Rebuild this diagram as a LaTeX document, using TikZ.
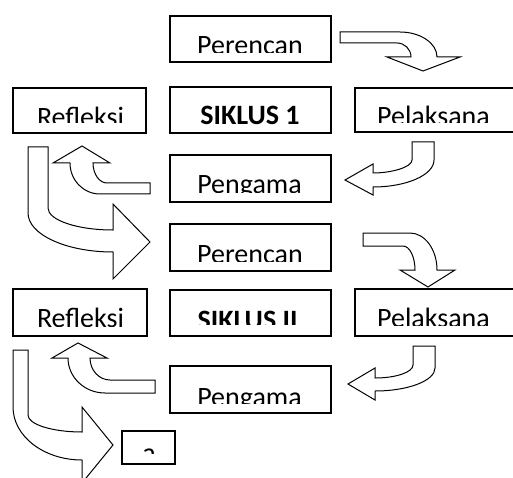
\documentclass[tikz,border=0pt]{standalone}
\usepackage{fontspec}
\setmainfont{Carlito}
\begin{document}
\begin{tikzpicture}[x=1pt,y=-1pt,
  box/.style={draw,line width=1.2pt,inner sep=0pt},
  lbl/.style={anchor=base,inner sep=0pt,font=\fontsize{28}{30}\selectfont},
  blk/.style={draw,line width=1pt,fill=white,line join=miter}]
\clip (0,0) rectangle (513,478);
\fill[white] (0,0) rectangle (513,478);
% boxes
\node[box,minimum width=161pt,minimum height=46pt] (p1) at (250.5,39) {};
\node[box,minimum width=133pt,minimum height=45pt] (r1) at (79.5,110.5) {};
\node[box,minimum width=161pt,minimum height=46pt] (s1) at (250.5,110) {};
\node[box,minimum width=161pt,minimum height=44pt] (l1) at (435.5,110) {};
\node[box,minimum width=161pt,minimum height=47pt] (g1) at (250.5,178.5) {};
\node[box,minimum width=161pt,minimum height=47pt] (p2) at (250.5,247.5) {};
\node[box,minimum width=134pt,minimum height=47pt] (r2) at (80,312.5) {};
\node[box,minimum width=161pt,minimum height=46pt] (s2) at (250.5,313) {};
\node[box,minimum width=161pt,minimum height=47pt] (l2) at (435.5,312.5) {};
\node[box,minimum width=161pt,minimum height=47pt] (g2) at (250.5,389.5) {};
\node[box,minimum width=53pt,minimum height=33pt] (x1) at (148.5,447.5) {};
% clipped texts
\begin{scope}\clip (p1.north west) rectangle (331,52.3);
\node[lbl] (p1t) at (250,54.4) {Perencan};\end{scope}
\begin{scope}\clip (r1.north west) rectangle (146,123);
\node[lbl] (r1t) at (80.5,126.7) {Refleksi};\end{scope}
\begin{scope}\clip (s1.north west) rectangle (331,124.5);
\node[lbl] (s1t) at (250,124.7) {\bfseries SIKLUS 1};\end{scope}
\begin{scope}\clip (l1.north west) rectangle (513,122.7);
\node[lbl] (l1t) at (433.5,126) {Pelaksana};\end{scope}
\begin{scope}\clip (g1.north west) rectangle (331,192.3);
\node[lbl] (g1t) at (249.5,193.7) {Pengama};\end{scope}
\begin{scope}\clip (p2.north west) rectangle (331,261.7);
\node[lbl] (p2t) at (250,263.7) {Perencan};\end{scope}
\begin{scope}\clip (r2.north west) rectangle (147,326);
\node[lbl] (r2t) at (80.5,327.7) {Refleksi};\end{scope}
\begin{scope}\clip (s2.north west) rectangle (331,324.3);
\node[lbl] (s2t) at (247.5,329.7) {\bfseries SIKLUS II};\end{scope}
\begin{scope}\clip (l2.north west) rectangle (513,325);
\node[lbl] (l2t) at (433.5,327) {Pelaksana};\end{scope}
\begin{scope}\clip (g2.north west) rectangle (331,403.3);
\node[lbl] (g2t) at (249.5,406) {Pengama};\end{scope}
\begin{scope}\clip (x1.north west) rectangle (175,453);
\node[lbl] (x1t) at (149,462) {a};\end{scope}
% block arrows
% A1 Perencan1 -> Pelaksana1
\draw[blk] (340,32) -- (400,32) .. controls (420.4,32) and (437,43.2) .. (437,57)
  -- (460,57) -- (423,71) -- (387,57) -- (411,57)
  .. controls (411,49.3) and (404.7,43) .. (397,43) -- (340,43) -- cycle;
% A2 Pelaksana1 -> Pengama1
\draw[blk] (412,142) -- (434,142) -- (434,160) .. controls (434,174.9) and (406.7,187) .. (373,187)
  -- (373,195) -- (345,180) -- (373,164) -- (373,173)
  .. controls (391.5,173) and (412,167.2) .. (412,160) -- cycle;
% A3 Pengama1 -> Refleksi1
\draw[blk] (150,183) -- (107,183) .. controls (99.3,183) and (93,174) .. (93,163)
  -- (110,163) -- (82,146) -- (53,163) -- (70,163)
  .. controls (70,180.1) and (83.4,194) .. (100,194) -- (150,194) -- cycle;
% A4 Refleksi1 -> Perencan2
\draw[blk] (28,147) -- (48,147) -- (48,208) .. controls (48,220.1) and (77.1,230) .. (113,230)
  -- (113,204) -- (150,242) -- (113,279) -- (113,252)
  .. controls (66.1,252) and (28,234.5) .. (28,213) -- cycle;
% A5 Perencan2 -> Pelaksana2
\draw[blk] (363,233) -- (410,233) .. controls (424.9,233) and (437,249.6) .. (437,270)
  -- (455,270) -- (428,287) -- (400,270) -- (415,270)
  .. controls (415,256.8) and (409.6,246) .. (403,246) -- (363,246) -- cycle;
% A6 Pelaksana2 -> Pengama2
\draw[blk] (413,346) -- (435,346) -- (435,368) .. controls (435,380.7) and (408.1,391) .. (375,391)
  -- (375,400) -- (348,384) -- (375,368) -- (375,378)
  .. controls (396,378) and (413,372.2) .. (413,365) -- cycle;
% A7 Pengama2 -> Refleksi2
\draw[blk] (155,380) -- (110,380) .. controls (99,380) and (90,370.1) .. (90,358)
  -- (107,358) -- (78,343) -- (52,358) -- (68,358)
  .. controls (68,377.3) and (84.6,393) .. (105,393) -- (155,393) -- cycle;
% A8 Refleksi2 -> small box
\draw[blk] (13,350) -- (28,350) -- (28,415) .. controls (28,424.4) and (52.2,432) .. (82,432)
  -- (82,407) -- (113,445) -- (82,483) -- (82,460)
  .. controls (43.9,460) and (13,436.3) .. (13,407) -- cycle;
\end{tikzpicture}
\end{document}
